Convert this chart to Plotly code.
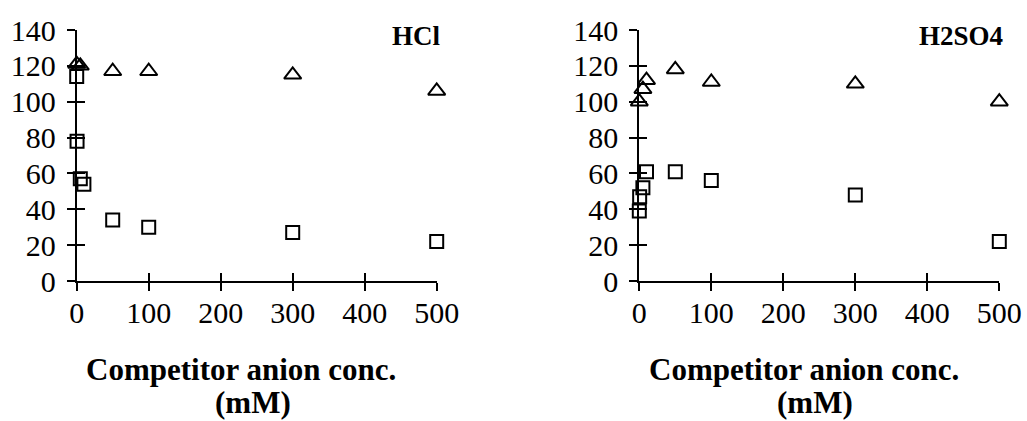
import plotly.graph_objects as go

# Competitor anion concentration (mM) and measured responses
hcl_tri_x = [0, 5, 50, 100, 300, 500]
hcl_tri_y = [121, 120, 117, 117, 115, 106]
hcl_sq_x = [0, 0.5, 5, 10, 50, 100, 300, 500]
hcl_sq_y = [114, 78, 57, 54, 34, 30, 27, 22]

h2so4_tri_x = [0, 5, 10, 50, 100, 300, 500]
h2so4_tri_y = [100, 107, 112, 118, 111, 110, 100]
h2so4_sq_x = [0, 0.5, 5, 10, 50, 100, 300, 500]
h2so4_sq_y = [39, 47, 52, 61, 61, 56, 48, 22]

panel_labels = ["HCl", "H2SO4"]
x_ticks = [0, 100, 200, 300, 400, 500]
y_ticks = [0, 20, 40, 60, 80, 100, 120, 140]
title_lines = ["Competitor anion conc.", "(mM)"]

FONT = "Liberation Serif, Times New Roman, serif"
W, H = 1027, 421

fig = go.Figure()

tri = dict(symbol="triangle-up-open", size=15, color="black", line=dict(width=2, color="black"))
sq = dict(symbol="square-open", size=13, color="black", line=dict(width=2, color="black"))

for xa, ya, tx, ty, sx, sy in [
    ("x", "y", hcl_tri_x, hcl_tri_y, hcl_sq_x, hcl_sq_y),
    ("x2", "y2", h2so4_tri_x, h2so4_tri_y, h2so4_sq_x, h2so4_sq_y),
]:
    fig.add_trace(go.Scatter(x=tx, y=ty, mode="markers", marker=tri, xaxis=xa, yaxis=ya,
                             cliponaxis=False, showlegend=False))
    fig.add_trace(go.Scatter(x=sx, y=sy, mode="markers", marker=sq, xaxis=xa, yaxis=ya,
                             cliponaxis=False, showlegend=False))

# invisible traces carrying the inward tick overlays
for xa, ya in [("x3", "y3"), ("x4", "y4")]:
    fig.add_trace(go.Scatter(x=[None], y=[None], xaxis=xa, yaxis=ya, showlegend=False, hoverinfo="skip"))

dom_left = [76.7 / W, 436.7 / W]
dom_right = [639.3 / W, 999.3 / W]
dom_y = [1 - 281 / H, 1 - 30 / H]

xbase = dict(range=[0, 500], tickvals=x_ticks, ticktext=[str(v) for v in x_ticks],
             showgrid=False, zeroline=False, showline=True, linecolor="black", linewidth=2,
             ticks="outside", ticklen=8, tickwidth=2, tickcolor="black", automargin=False,
             ticklabelstandoff=-4,
             tickfont=dict(family=FONT, size=30, color="black"), fixedrange=True)
ybase = dict(range=[0, 140], tickvals=y_ticks, ticktext=[str(v) for v in y_ticks],
             showgrid=False, zeroline=False, showline=True, linecolor="black", linewidth=2,
             ticks="outside", ticklen=8, tickwidth=2, tickcolor="black", automargin=False,
             ticklabelstandoff=5,
             tickfont=dict(family=FONT, size=30, color="black"), fixedrange=True)

def inner(base):
    d = dict(base)
    d.update(ticks="inside", showticklabels=False, showline=False)
    return d

fig.update_layout(
    width=W, height=H, autosize=False,
    margin=dict(l=0, r=0, t=0, b=0, pad=0, autoexpand=False),
    paper_bgcolor="white", plot_bgcolor="rgba(0,0,0,0)",
    xaxis=dict(xbase, domain=dom_left, anchor="y"),
    yaxis=dict(ybase, domain=dom_y, anchor="x"),
    xaxis2=dict(xbase, domain=dom_right, anchor="y2"),
    yaxis2=dict(ybase, domain=dom_y, anchor="x2"),
    xaxis3=dict(inner(xbase), domain=dom_left, anchor="y3", overlaying="x"),
    yaxis3=dict(inner(ybase), domain=dom_y, anchor="x3", overlaying="y"),
    xaxis4=dict(inner(xbase), domain=dom_right, anchor="y4", overlaying="x2"),
    yaxis4=dict(inner(ybase), domain=dom_y, anchor="x4", overlaying="y2"),
)

annotations = []
for dom, label in [(dom_left, panel_labels[0]), (dom_right, panel_labels[1])]:
    mid = (dom[0] + dom[1]) / 2
    annotations.append(dict(text=f"<b>{label}</b>", xref="paper", yref="paper",
                            x=dom[1] + 6 / W, y=1 - 36 / H, xanchor="right", yanchor="middle",
                            showarrow=False, font=dict(family=FONT, size=27, color="black")))
    annotations.append(dict(text=f"<b>{title_lines[0]}</b>", xref="paper", yref="paper",
                            x=mid - 15.7 / W, y=1 - 369 / H,
                            xanchor="center", yanchor="middle",
                            showarrow=False, font=dict(family=FONT, size=31, color="black")))
    annotations.append(dict(text=f"<b>{title_lines[1]}</b>", xref="paper", yref="paper",
                            x=mid - 4 / W, y=1 - 402 / H,
                            xanchor="center", yanchor="middle",
                            showarrow=False, font=dict(family=FONT, size=31, color="black")))
fig.update_layout(annotations=annotations)

fig.write_html("out.html")
